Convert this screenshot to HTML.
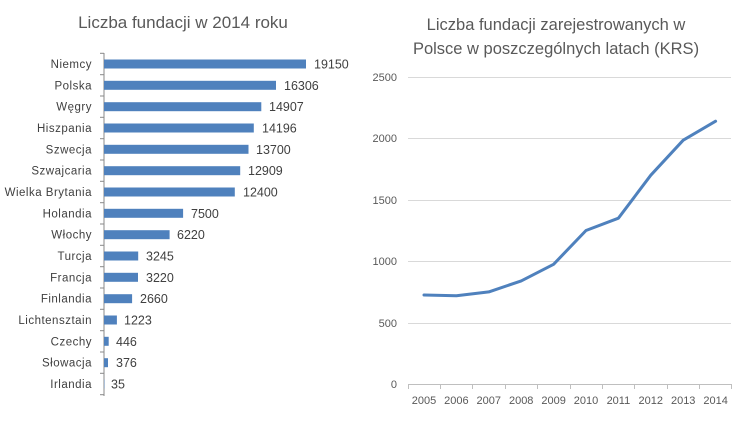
<!DOCTYPE html>
<html><head><meta charset="utf-8"><style>body{margin:0;background:#fff}svg{display:block;font-family:"Liberation Sans",sans-serif}</style></head><body>
<svg width="736" height="425" xmlns="http://www.w3.org/2000/svg">
<rect width="736" height="425" fill="#fff"/>
<text x="183" y="28" font-size="17" fill="#595959" text-anchor="middle">Liczba fundacji w 2014 roku</text>
<line x1="104" y1="53" x2="104" y2="396" stroke="#888" stroke-width="1"/>
<g stroke="#888">
<line x1="100" y1="53.3" x2="104" y2="53.3"/><line x1="100" y1="74.7" x2="104" y2="74.7"/><line x1="100" y1="96" x2="104" y2="96"/><line x1="100" y1="117.3" x2="104" y2="117.3"/><line x1="100" y1="138.7" x2="104" y2="138.7"/><line x1="100" y1="160" x2="104" y2="160"/><line x1="100" y1="181.3" x2="104" y2="181.3"/><line x1="100" y1="202.7" x2="104" y2="202.7"/><line x1="100" y1="224" x2="104" y2="224"/><line x1="100" y1="245.3" x2="104" y2="245.3"/><line x1="100" y1="266.7" x2="104" y2="266.7"/><line x1="100" y1="288" x2="104" y2="288"/><line x1="100" y1="309.3" x2="104" y2="309.3"/><line x1="100" y1="330.7" x2="104" y2="330.7"/><line x1="100" y1="352" x2="104" y2="352"/><line x1="100" y1="373.3" x2="104" y2="373.3"/><line x1="100" y1="394.7" x2="104" y2="394.7"/>
</g>
<g fill="#4f81bd">
<rect x="104" y="59.5" width="202" height="9"/><rect x="104" y="80.8" width="172" height="9"/><rect x="104" y="102.2" width="157.3" height="9"/><rect x="104" y="123.5" width="149.8" height="9"/><rect x="104" y="144.8" width="144.5" height="9"/><rect x="104" y="166.2" width="136.2" height="9"/><rect x="104" y="187.5" width="130.8" height="9"/><rect x="104" y="208.8" width="79.1" height="9"/><rect x="104" y="230.2" width="65.6" height="9"/><rect x="104" y="251.5" width="34.2" height="9"/><rect x="104" y="272.8" width="34" height="9"/><rect x="104" y="294.2" width="28.1" height="9"/><rect x="104" y="315.5" width="12.9" height="9"/><rect x="104" y="336.8" width="4.7" height="9"/><rect x="104" y="358.2" width="4" height="9"/><rect x="104" y="379.5" width="0.4" height="9"/>
</g>
<g font-size="11.5" fill="#404040" text-anchor="end" letter-spacing="0.5">
<text x="92" y="68">Niemcy</text><text x="92" y="89.3">Polska</text><text x="92" y="110.7">Węgry</text><text x="92" y="132">Hiszpania</text><text x="92" y="153.3">Szwecja</text><text x="92" y="174.7">Szwajcaria</text><text x="92" y="196">Wielka Brytania</text><text x="92" y="217.3">Holandia</text><text x="92" y="238.7">Włochy</text><text x="92" y="260">Turcja</text><text x="92" y="281.3">Francja</text><text x="92" y="302.7">Finlandia</text><text x="92" y="324">Lichtensztain</text><text x="92" y="345.3">Czechy</text><text x="92" y="366.7">Słowacja</text><text x="92" y="388">Irlandia</text>
</g>
<g font-size="12.5" fill="#404040">
<text x="314" y="68.5">19150</text><text x="284" y="89.8">16306</text><text x="269" y="111.2">14907</text><text x="262" y="132.5">14196</text><text x="256" y="153.8">13700</text><text x="248" y="175.2">12909</text><text x="243" y="196.5">12400</text><text x="191" y="217.8">7500</text><text x="177" y="239.2">6220</text><text x="146" y="260.5">3245</text><text x="146" y="281.8">3220</text><text x="140" y="303.2">2660</text><text x="124" y="324.5">1223</text><text x="116" y="345.8">446</text><text x="116" y="367.2">376</text><text x="111" y="388.5">35</text>
</g>
<g font-size="16.5" fill="#595959" text-anchor="middle">
<text x="556" y="30">Liczba fundacji zarejestrowanych w</text>
<text x="556" y="54">Polsce w poszczególnych latach (KRS)</text>
</g>
<g stroke="#d9d9d9" stroke-width="1">
<line x1="408" y1="77.5" x2="731" y2="77.5"/><line x1="408" y1="138.5" x2="731" y2="138.5"/><line x1="408" y1="200.5" x2="731" y2="200.5"/><line x1="408" y1="261.5" x2="731" y2="261.5"/><line x1="408" y1="323.5" x2="731" y2="323.5"/>
</g>
<line x1="408" y1="384.5" x2="731" y2="384.5" stroke="#bfbfbf"/>
<g stroke="#bfbfbf">
<line x1="408.5" y1="384" x2="408.5" y2="389"/><line x1="440.5" y1="384" x2="440.5" y2="389"/><line x1="472.5" y1="384" x2="472.5" y2="389"/><line x1="505.5" y1="384" x2="505.5" y2="389"/><line x1="537.5" y1="384" x2="537.5" y2="389"/><line x1="570.5" y1="384" x2="570.5" y2="389"/><line x1="602.5" y1="384" x2="602.5" y2="389"/><line x1="634.5" y1="384" x2="634.5" y2="389"/><line x1="667.5" y1="384" x2="667.5" y2="389"/><line x1="699.5" y1="384" x2="699.5" y2="389"/><line x1="731.5" y1="384" x2="731.5" y2="389"/>
</g>
<g font-size="11" fill="#595959" text-anchor="end">
<text x="397" y="81">2500</text><text x="397" y="142">2000</text><text x="397" y="204">1500</text><text x="397" y="265">1000</text><text x="397" y="327">500</text><text x="397" y="388">0</text>
</g>
<g font-size="11" fill="#595959" text-anchor="middle">
<text x="424" y="404">2005</text><text x="456.4" y="404">2006</text><text x="488.8" y="404">2007</text><text x="521.2" y="404">2008</text><text x="553.6" y="404">2009</text><text x="586" y="404">2010</text><text x="618.4" y="404">2011</text><text x="650.8" y="404">2012</text><text x="683.2" y="404">2013</text><text x="715.6" y="404">2014</text>
</g>
<polyline fill="none" stroke="#4f81bd" stroke-width="3" stroke-linejoin="round" stroke-linecap="round" points="424,295 456.4,295.8 488.8,291.9 521.2,280.9 553.6,264.3 586,230.5 618.4,218.2 650.8,175.2 683.2,140.2 715.6,121.2"/>
</svg>
</body></html>
